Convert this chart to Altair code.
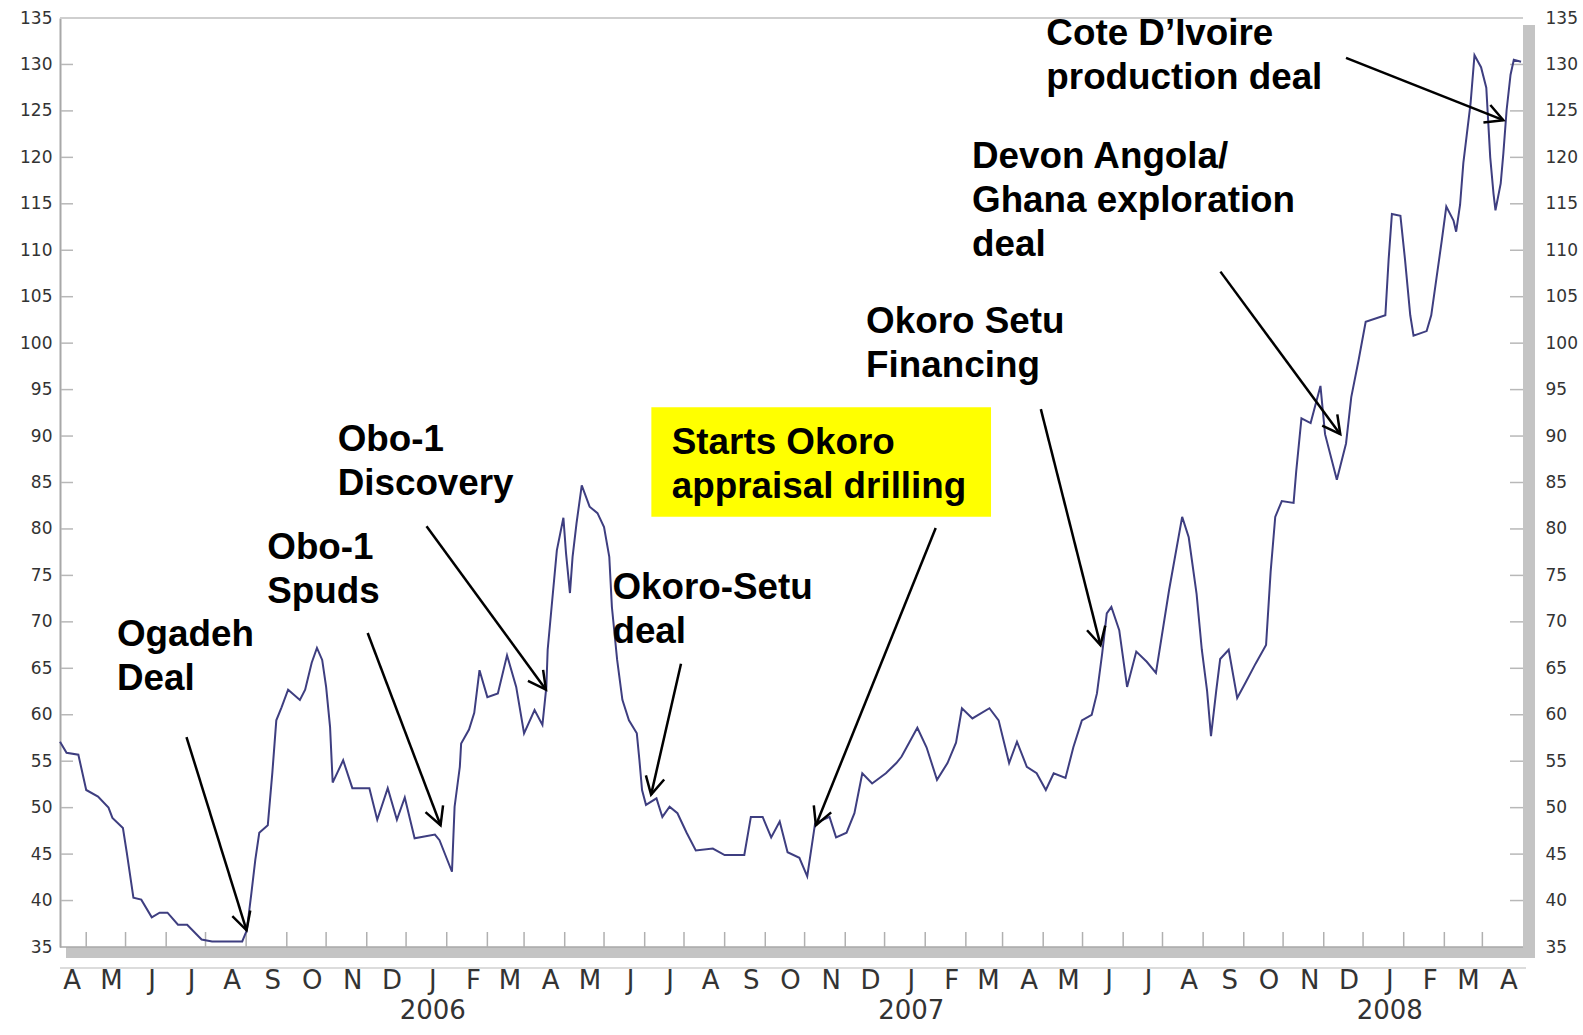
import math
import altair as alt
import pandas as pd

# ---------------- data ----------------
START = "2005-03-12"          # first weekly close shown
DOMAIN_DAYS = 1116            # axis runs to 2008-04-01

# days after START and share price
DAYS = [0, 5, 14, 20, 29, 37, 40, 48, 51, 56,
        62, 70, 76, 82, 90, 97, 108, 116, 139, 142.5,
        146, 149, 152, 158.5, 162, 165, 169, 174, 183, 187,
        192, 196, 200, 203, 206, 208, 216, 223, 236, 242,
        250, 257, 263, 270.5, 286, 289.5, 299, 301, 305, 306,
        312, 316, 320, 326, 334, 341, 348, 354, 362, 368,
        371, 372, 375, 379, 384, 386, 389, 391, 394, 398,
        404, 410, 415, 419, 421, 425, 429, 434, 440, 442,
        444, 447, 455, 459.5, 465, 471, 478, 485, 498, 507,
        522, 527, 536, 542.5, 549, 555, 564, 570, 576, 587,
        592, 600, 606, 612, 619.5, 630, 638, 642, 654, 661,
        669, 677, 683.5, 688, 696, 709, 716, 724, 730, 737.5,
        745, 752, 758, 767, 773, 779.5, 787, 791, 795, 798.5,
        802, 808, 814, 821, 829, 836, 846, 856, 861, 867,
        871, 875, 878, 882, 885, 891.5, 898, 904.5, 912, 920,
        923.5, 927, 932, 941, 943, 947, 954, 961.5, 965, 974,
        981, 985, 990.5, 996, 1011, 1013.5, 1016, 1022.5, 1026, 1030,
        1032.5, 1042.5, 1046, 1050, 1054, 1057.5, 1063, 1065, 1068, 1070.5,
        1073, 1076, 1079, 1084, 1088, 1091, 1093.5, 1095, 1099, 1101,
        1103.5, 1106.5, 1109, 1114.5]

PRICE = [57.1, 55.9, 55.7, 51.9, 51.2, 50.0, 48.9, 47.8, 45.1, 40.3,
         40.1, 38.2, 38.7, 38.7, 37.4, 37.4, 35.8, 35.6, 35.6, 36.8,
         40.8, 44.4, 47.3, 48.1, 53.8, 59.4, 60.8, 62.7, 61.6, 62.7,
         65.6, 67.2, 65.9, 63.0, 58.7, 52.7, 55.1, 52.1, 52.1, 48.7,
         52.1, 48.7, 51.1, 46.7, 47.1, 46.5, 43.1, 50.1, 54.4, 56.9,
         58.4, 60.2, 64.8, 61.9, 62.3, 66.4, 63.0, 58.0, 60.5, 58.9,
         63.0, 67.0, 71.6, 77.7, 81.2, 77.4, 73.1, 77.0, 80.6, 84.7,
         82.4, 81.7, 80.2, 77.0, 71.6, 65.9, 61.6, 59.4, 58.0, 55.1,
         51.9, 50.3, 51.0, 49.0, 50.1, 49.4, 47.3, 45.4, 45.6, 44.9,
         44.9, 49.0, 49.0, 46.8, 48.5, 45.2, 44.6, 42.6, 48.3, 49.0,
         46.8, 47.3, 49.4, 53.7, 52.6, 53.7, 54.8, 55.5, 58.6, 56.5,
         53.0, 54.8, 57.0, 60.7, 59.6, 60.7, 59.4, 54.8, 57.1, 54.4,
         53.7, 51.9, 53.7, 53.2, 56.5, 59.4, 60.0, 62.3, 66.6, 70.9,
         71.6, 69.1, 63.0, 66.8, 65.7, 64.5, 73.4, 81.3, 79.1, 73.0,
         67.0, 62.6, 57.7, 62.6, 66.0, 67.0, 61.8, 63.5, 65.5, 67.5,
         75.4, 81.3, 83.0, 82.8, 86.2, 91.9, 91.4, 95.4, 90.2, 85.3,
         89.2, 94.2, 98.1, 102.3, 103.0, 109.0, 113.9, 113.7, 109.0, 103.0,
         100.8, 101.3, 103.0, 107.0, 111.0, 114.7, 113.2, 112.0, 114.9, 119.4,
         122.3, 125.8, 131.0, 129.7, 127.5, 120.0, 116.1, 114.3, 117.2, 120.4,
         125.1, 128.9, 130.5, 130.3]

Y_TICKS = list(range(35, 140, 5))
MONTH_STARTS = pd.date_range("2005-04-01", "2008-04-01", freq="MS")
MONTH_LABELS = [d.strftime("%b")[0] for d in MONTH_STARTS]
YEARS = ["2006-01-01", "2007-01-01", "2008-01-01"]
YEAR_LABELS = ["2006", "2007", "2008"]

# annotations: text anchored at (day, price) of first-line baseline
ANN_TEXT = ["Ogadeh\nDeal", "Obo-1\nSpuds", "Obo-1\nDiscovery",
            "Okoro-Setu\ndeal", "Starts Okoro\nappraisal drilling",
            "Okoro Setu\nFinancing", "Devon Angola/\nGhana exploration\ndeal",
            "Cote D\u2019Ivoire\nproduction deal"]
ANN_DAY = [43.4, 158.1, 211.8, 421.4, 466.7, 614.9, 695.7, 752.4]
ANN_VAL = [67.4, 76.8, 88.4, 72.5, 88.1, 101.1, 118.9, 132.1]

# arrows: tail -> tip in (day, price)
ARR_TAIL_DAY = [96.5, 234.7, 279.6, 473.7, 668.0, 748.2, 885.2, 981.0]
ARR_TAIL_VAL = [57.6, 68.8, 80.3, 65.5, 80.1, 92.9, 107.7, 130.7]
ARR_TIP_DAY = [142.3, 290.3, 370.7, 450.9, 576.6, 793.7, 976.6, 1101.0]
ARR_TIP_VAL = [36.8, 48.1, 62.7, 51.4, 48.1, 67.5, 90.2, 124.0]

# highlight box behind "Starts Okoro appraisal drilling"
BOX_DAY = [451.1, 710.2]
BOX_VAL = [81.3, 93.1]

# ---------------- layout ----------------
W, H = 1463, 929
LINE_COLOR = "#3e3e80"
LABEL_COLOR = "#333333"
FONT_AX = "DejaVu Sans"
FONT_ANN = "Liberation Sans"

DAY_MS = 86400000
START_MS = int(pd.Timestamp(START).value // 10**6)
END_MS = START_MS + DOMAIN_DAYS * DAY_MS


def ms(d):
    return START_MS + d * DAY_MS


month_ms = [int(t.value // 10**6) for t in MONTH_STARTS]

xscale = alt.Scale(type="utc", domain=[START_MS, END_MS])
yscale = alt.Scale(domain=[35, 135], nice=False, zero=False)

price_df = pd.DataFrame({"t": [ms(d) for d in DAYS], "v": PRICE})
tick_df = pd.DataFrame({"t": month_ms[:-1]})
month_df = pd.DataFrame({"t": month_ms, "label": MONTH_LABELS})
ytick_df = pd.DataFrame({"v": Y_TICKS[1:-1]})
year_df = pd.DataFrame({"t": [int(pd.Timestamp(y).value // 10**6) for y in YEARS], "label": YEAR_LABELS})
ann_df = pd.DataFrame({"t": [ms(d) for d in ANN_DAY], "v": ANN_VAL, "label": ANN_TEXT})

PXD = W / DOMAIN_DAYS
PXV = H / 100.0
angles = []
for td, tv, hd, hv in zip(ARR_TAIL_DAY, ARR_TAIL_VAL, ARR_TIP_DAY, ARR_TIP_VAL):
    dx = (hd - td) * PXD
    dy = -(hv - tv) * PXV
    angles.append(math.degrees(math.atan2(dy, dx)) % 360)
arr_df = pd.DataFrame({
    "t1": [ms(d) for d in ARR_TAIL_DAY], "v1": ARR_TAIL_VAL,
    "t2": [ms(d) for d in ARR_TIP_DAY], "v2": ARR_TIP_VAL,
    "ang": angles,
})
box_df = pd.DataFrame({"t1": [ms(BOX_DAY[0])], "t2": [ms(BOX_DAY[1])],
                       "v1": [BOX_VAL[0]], "v2": [BOX_VAL[1]]})
one = pd.DataFrame({"k": [0]})

X_NONE = dict(scale=xscale, axis=None)
Y_NONE = dict(scale=yscale, axis=None)

# frame / shadow
shadow_bottom = alt.Chart(one).mark_rect(color="#c4c4c4").encode(
    x=alt.value(6), x2=alt.value(W + 12), y=alt.value(H), y2=alt.value(H + 11))
shadow_right = alt.Chart(one).mark_rect(color="#c4c4c4").encode(
    x=alt.value(W), x2=alt.value(W + 12), y=alt.value(7), y2=alt.value(H + 11))
top_rule = alt.Chart(one).mark_rule(color="#cfcfcf", strokeWidth=2).encode(
    x=alt.value(0), x2=alt.value(W), y=alt.value(0))
bottom_rule = alt.Chart(one).mark_rule(color="#d0d0d0", strokeWidth=1.5).encode(
    x=alt.value(0), x2=alt.value(W + 3), y=alt.value(H + 21))
base_rule = alt.Chart(one).mark_rule(color="#a8a8a8", strokeWidth=1.5).encode(
    x=alt.value(0), x2=alt.value(W), y=alt.value(H))

# inside ticks
xticks = alt.Chart(tick_df).mark_rule(color="#b0b0b0", strokeWidth=1.5).encode(
    x=alt.X("t:T", **X_NONE), y=alt.value(H - 15), y2=alt.value(H))
yticks_left = alt.Chart(ytick_df).mark_rule(color="#b8b8b8", strokeWidth=1.5).encode(
    y=alt.Y("v:Q", **Y_NONE), x=alt.value(1), x2=alt.value(13))
yticks_right = alt.Chart(pd.DataFrame({"v": Y_TICKS[1:-1]})).mark_rule(color="#b8b8b8", strokeWidth=1.5).encode(
    y=alt.Y("v:Q", scale=yscale,
            axis=alt.Axis(orient="right", values=Y_TICKS, ticks=False, tickSize=0, domain=False,
                          grid=False, labelFont=FONT_AX, labelFontSize=17, labelColor=LABEL_COLOR,
                          labelPadding=22, title=None)),
    x=alt.value(W - 13), x2=alt.value(W))

line = alt.Chart(price_df).mark_line(color=LINE_COLOR, strokeWidth=2).encode(
    x=alt.X("t:T", **X_NONE),
    y=alt.Y("v:Q", scale=yscale,
            axis=alt.Axis(orient="left", values=Y_TICKS, ticks=False, tickSize=0, grid=False,
                          domain=True, domainColor="#a8a8a8", domainWidth=2,
                          labelFont=FONT_AX, labelFontSize=17, labelColor=LABEL_COLOR,
                          labelPadding=8, title=None)),
)

months = alt.Chart(month_df).mark_text(font=FONT_AX, fontSize=26, color=LABEL_COLOR,
                                       baseline="alphabetic", align="center", dx=-14).encode(
    x=alt.X("t:T", **X_NONE), y=alt.value(H + 42), text="label:N")

years = alt.Chart(year_df).mark_text(font=FONT_AX, fontSize=26, color=LABEL_COLOR,
                                     baseline="alphabetic", align="center", dx=-14).encode(
    x=alt.X("t:T", **X_NONE), y=alt.value(H + 72), text="label:N")

box = alt.Chart(box_df).mark_rect(color="#ffff00").encode(
    x=alt.X("t1:T", **X_NONE), x2="t2:T", y=alt.Y("v1:Q", **Y_NONE), y2="v2:Q")

shafts = alt.Chart(arr_df).mark_rule(color="black", strokeWidth=2.5).encode(
    x=alt.X("t1:T", **X_NONE), x2="t2:T", y=alt.Y("v1:Q", **Y_NONE), y2="v2:Q")

heads = alt.Chart(arr_df).mark_point(shape="M -1 -0.53 L 0 0 L -1 0.53", size=1253, filled=False,
                                     color="black", strokeWidth=2.5, opacity=1).encode(
    x=alt.X("t2:T", **X_NONE), y=alt.Y("v2:Q", **Y_NONE), angle=alt.Angle("ang:Q", scale=None))

texts = alt.Chart(ann_df).mark_text(font=FONT_ANN, fontSize=36.8, fontWeight="bold", color="black",
                                    align="left", baseline="alphabetic", lineBreak="\n",
                                    lineHeight=44).encode(
    x=alt.X("t:T", **X_NONE), y=alt.Y("v:Q", **Y_NONE), text="label:N")

chart = alt.layer(
    shadow_bottom, shadow_right, top_rule, bottom_rule, base_rule,
    xticks, yticks_left, yticks_right, line, box, shafts, heads, texts, months, years,
).resolve_axis(y="independent").properties(
    width=W, height=H,
    autosize=alt.AutoSizeParams(type="none"),
    padding={"left": 60, "top": 18, "right": 60, "bottom": 88},
    background="white",
).configure_view(stroke=None)

chart.save("out.html", embed_options={"renderer": "svg", "actions": False})
